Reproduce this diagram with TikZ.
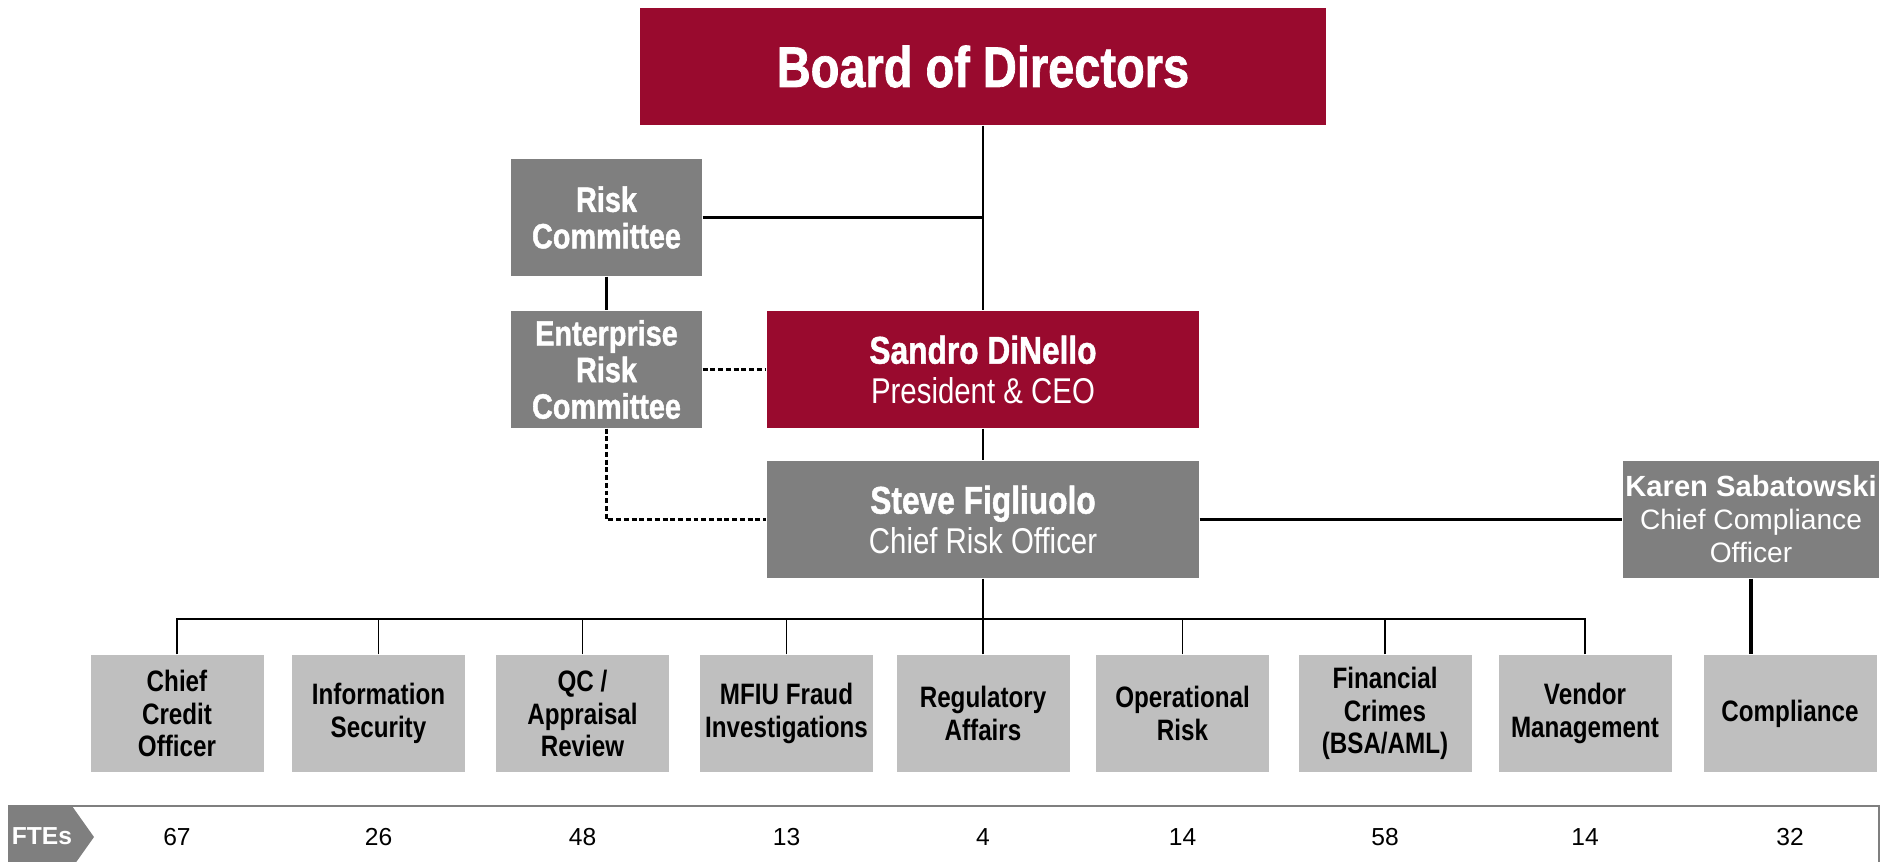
\documentclass[tikz,border=0pt]{standalone}
\usepackage{fontspec}
\setmainfont{Liberation Sans}
\newfontfamily\narrowfont[FakeStretch=0.82]{Liberation Sans}
\newfontfamily\heavyfont[FakeStretch=0.82, FakeBold=1.2]{Liberation Sans Bold}
\definecolor{crimson}{HTML}{990A2E}
\definecolor{darkbox}{HTML}{7F7F7F}
\definecolor{lightbox}{HTML}{BFBFBF}

\begin{document}
\begin{tikzpicture}[x=0.1mm, y=-0.1mm,
    redbox/.style={fill=crimson, text=white, minimum height=11.7mm, align=center, inner sep=0pt},
    greybox/.style={fill=darkbox, text=white, minimum height=11.7mm, align=center, inner sep=0pt},
    unitbox/.style={fill=lightbox, text=black, minimum width=17.3mm, minimum height=11.7mm, align=center, inner sep=0pt,
        font=\narrowfont\bfseries\fontsize{8.4}{9.2}\selectfont},
    link/.style={line width=0.75pt},
    buslink/.style={line width=0.55pt},
    heavylink/.style={line width=1.1pt},
    dottedlink/.style={dash pattern=on 1.4pt off 0.8pt, line width=0.65pt}]
\useasboundingbox (0,0) rectangle (1889,861);

\node [redbox, minimum width=68.6mm, font=\heavyfont\fontsize{16.3}{18}\selectfont] (board) at (983,66.5) {Board of Directors};
\node [greybox, minimum width=19.1mm, font=\heavyfont\fontsize{10}{10.4}\selectfont] (riskc) at (606.5,217.5) {Risk\\Committee};
\node [greybox, minimum width=19.1mm, font=\heavyfont\fontsize{10}{10.4}\selectfont] (erc) at (606.5,369.5) {Enterprise\\Risk\\Committee};
\node [redbox, minimum width=43.2mm, font=\narrowfont\fontsize{10.2}{11.2}\selectfont] (ceo) at (983,369.5)
    {{\heavyfont\fontsize{11}{11.2}\selectfont Sandro DiNello}\\President \& CEO};
\node [greybox, minimum width=43.2mm, font=\narrowfont\fontsize{10.2}{11.2}\selectfont] (cro) at (983,519.5)
    {{\heavyfont\fontsize{11}{11.2}\selectfont Steve Figliuolo}\\Chief Risk Officer};
\node [greybox, minimum width=25.6mm, font=\fontsize{8}{9.4}\selectfont] (cco) at (1751,519.5)
    {{\bfseries\fontsize{8.3}{9.4}\selectfont Karen Sabatowski}\\Chief Compliance\\Officer};

\draw [link] (board) -- (ceo);
\draw [link] (riskc.east) -- (riskc.east -| board.south);
\draw [link] (riskc) -- (erc);
\draw [link] (ceo) -- (cro);
\draw [dottedlink] (erc) -- (ceo);
\draw [dottedlink] (erc.south) |- (cro.west);
\draw [heavylink] (cro) -- (cco);

\coordinate (bus) at (983,619);
\draw [link] (cro) -- (bus);
\foreach \x/\n/\t/\f in {177/credit/{Chief\\Credit\\Officer}/67,
        378.5/infosec/{Information\\Security}/26,
        582.5/qc/{QC /\\Appraisal\\Review}/48,
        786.5/mfiu/{MFIU Fraud\\Investigations}/13,
        983/regaff/{Regulatory\\Affairs}/4,
        1182.5/oprisk/{Operational\\Risk}/14,
        1385/fincrime/{Financial\\Crimes\\(BSA/AML)}/58,
        1585/vendor/{Vendor\\Management}/14}{
    \node [unitbox] (\n) at (\x,713.5) {\t};
    \draw [buslink] (\n.north) |- (bus);
    \node [font=\fontsize{7}{8}\selectfont] (\n-fte) at (\x,837) {\f};
}
\node [unitbox] (compl) at (1790,713.5) {Compliance};
\draw [heavylink] (cco.south) -- (cco.south |- compl.north);
\node [font=\fontsize{7}{8}\selectfont] (compl-fte) at (1790,837) {32};

% FTE strip along the bottom
\draw [darkbox, line width=0.5pt] (8,806) -- (1879,806) -- (1879,870);
\fill [darkbox] (8,806) -- (72,806) -- (94,837) -- (72,868) -- (8,868) -- cycle;
\node [text=white, font=\bfseries\fontsize{7}{8}\selectfont] (ftes) at (42,836) {FTEs};
\end{tikzpicture}
\end{document}
